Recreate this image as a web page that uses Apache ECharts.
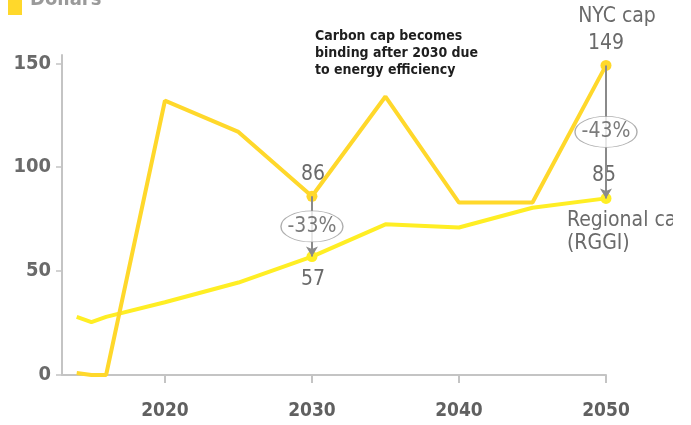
<!DOCTYPE html>
<html><head><meta charset="utf-8">
<script src="https://cdn.jsdelivr.net/npm/echarts@6/dist/echarts.min.js"></script>
<style>html,body{margin:0;padding:0;background:#fff}#c{width:691px;height:425px}</style>
</head><body><div id="c"></div>
<script>
const years = [2014, 2015, 2016, 2020, 2025, 2030, 2035, 2040, 2045, 2050];
const nycCap = [1, 0, 0, 132, 117, 86, 134, 83, 83, 149];
const rggiCap = [28, 25.5, 28, 35, 44.5, 57, 72.5, 71, 80.5, 85];
const xTicks = [2020, 2030, 2040, 2050];
const yTicks = [0, 50, 100, 150];
const gapYears = [2030, 2050];
const gapLabels = ['-33%', '-43%'];

const FONT = '"DejaVu Sans Condensed","Liberation Sans Narrow",sans-serif';
const GREY = '#6a6a6a';
const NYC_C = '#FFD82B';
const RGGI_C = '#FFEE24';

function val(arr, y){ return arr[years.indexOf(y)]; }

const chart = echarts.init(document.getElementById('c'), null, {renderer:'canvas'});

const nycData = years.map((y,i)=>[y, nycCap[i]]);
const rggiData = years.map((y,i)=>[y, rggiCap[i]]);

const gapLines = gapYears.map(y=>[{coord:[y, val(nycCap,y)]},{coord:[y, val(rggiCap,y)]}]);
const ellipseData = gapYears.map((y,i)=>({value:[y,(val(nycCap,y)+val(rggiCap,y))/2], label:{formatter:gapLabels[i]}}));

chart.setOption({
  animation:false,
  grid:{left:62, right:85, top:55, bottom:50},
  xAxis:{type:'value', min:2013, max:2050,
    axisLine:{lineStyle:{color:'#c4c4c4', width:2}},
    axisTick:{customValues:xTicks, length:8, lineStyle:{color:'#c4c4c4', width:2}},
    axisLabel:{customValues:xTicks, formatter:(v)=>String(v), color:'#606060', fontSize:19, fontFamily:FONT, fontWeight:'bold', margin:27},
    splitLine:{show:false}},
  yAxis:{type:'value', min:0, max:154,
    axisLine:{show:true, lineStyle:{color:'#c4c4c4', width:2}},
    axisTick:{show:true, customValues:yTicks, length:6, lineStyle:{color:'#c4c4c4', width:1.5}},
    axisLabel:{customValues:yTicks, color:GREY, fontSize:20, fontFamily:FONT, fontWeight:'bold', margin:11},
    splitLine:{show:false}},
  series:[
    {type:'line', name:'RGGI', data:rggiData, z:3,
      lineStyle:{color:RGGI_C, width:4}, itemStyle:{color:RGGI_C},
      symbol:'circle', symbolSize:(v)=> gapYears.includes(v[0]) ? 11 : 0, showSymbol:true},
    {type:'line', name:'NYC', data:nycData, z:4,
      lineStyle:{color:NYC_C, width:4}, itemStyle:{color:NYC_C},
      symbol:'circle', symbolSize:(v)=> gapYears.includes(v[0]) ? 11 : 0, showSymbol:true,
      markLine:{silent:true, symbol:['none','arrow'], symbolSize:[9,10], z:5,
        lineStyle:{color:'#8a8a8a', width:2, type:'solid'}, label:{show:false},
        data:gapLines}},
    {type:'scatter', data:ellipseData, symbol:'circle', symbolSize:[62,31], z:6,
      itemStyle:{color:'#fff', borderColor:'#9a9a9a', borderWidth:1},
      label:{show:true, position:'inside', color:'#5a5a5a', fontSize:21, fontFamily:FONT}}
  ],
  graphic:[
    {type:'rect', shape:{x:8, y:-6, width:14, height:21}, style:{fill:'#FFD82B'}},
    {type:'text', style:{x:30, y:-10, text:'Dollars', fill:'#9a9a9a', font:'bold 20px '+FONT}},
    {type:'text', style:{x:315, y:28, text:'Carbon cap becomes\nbinding after 2030 due\nto energy efficiency', fill:'#1e1e1e', font:'bold 14px '+FONT, lineHeight:17}},
    {type:'text', style:{x:617, y:6, text:'NYC cap', fill:GREY, font:'21px '+FONT, align:'center'}},
    {type:'text', style:{x:606, y:33, text:'149', fill:GREY, font:'21px '+FONT, align:'center'}},
    {type:'text', style:{x:313, y:164, text:'86', fill:GREY, font:'21px '+FONT, align:'center'}},
    {type:'text', style:{x:313, y:269, text:'57', fill:GREY, font:'21px '+FONT, align:'center'}},
    {type:'text', style:{x:604, y:165, text:'85', fill:GREY, font:'21px '+FONT, align:'center'}},
    {type:'text', style:{x:567, y:209, text:'Regional cap\n(RGGI)', fill:GREY, font:'21px '+FONT, lineHeight:23}},
    {type:'rect', z:100, shape:{x:673, y:200, width:18, height:60}, style:{fill:'#fff'}}
  ]
});
</script></body></html>
